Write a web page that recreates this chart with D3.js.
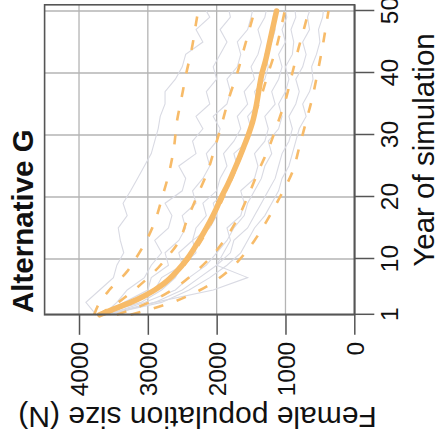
<!DOCTYPE html>
<html><head><meta charset="utf-8">
<script src="https://cdn.jsdelivr.net/npm/d3@7"></script>
<style>html,body{margin:0;padding:0;background:#fff;}svg{display:block;}</style>
</head><body>
<script>
// ---- data ----
const yearTicks = [1, 10, 20, 30, 40, 50];
const popTicks = [0, 1000, 2000, 3000, 4000];
const titleText = "Alternative G";
const xLabel = "Year of simulation";
const yLabel = "Female population size (N)";

// mean trajectory (thick line)
const meanYears = [1,2,3,4,5,6,8,10,12,14,16,18,20,22,25,28,30,32,35,38,40,42,45,48,50];
const meanPop   = [3700,3480,3250,3060,2900,2770,2580,2430,2310,2200,2100,2010,1930,1840,1720,1610,1540,1480,1420,1375,1340,1290,1230,1170,1130];

// dashed quantile-like curves
const dashYears = [1,3,5,8,10,13,16,20,24,28,32,36,40,44,48,50];
const dashA = [3780,3700,3560,3300,3180,3020,2900,2790,2690,2620,2580,2510,2440,2360,2300,2270];
const dashB = [3720,3430,3200,2900,2740,2540,2440,2290,2135,2025,1920,1820,1700,1600,1500,1450];
const dashC = [3650,3220,2880,2550,2400,2220,2070,1900,1740,1600,1490,1360,1250,1135,1050,1010];
const dashD = [3450,2980,2650,2300,2110,1890,1720,1550,1400,1240,1110,990,900,810,710,665];
const dashE = [3250,2650,2240,1840,1660,1450,1280,1080,900,800,705,610,535,465,405,375];

// individual simulation runs (grey)
const simYears = [1,3,5,7,9,11,13,15,17,19,21,23,25,27,29,31,33,35,37,39,41,43,45,47,49,50];
const sim1 = [3750,3900,3700,3500,3450,3350,3400,3430,3300,3360,3250,3150,3050,2950,2900,2850,2820,2750,2750,2600,2500,2450,2200,2300,2100,2150];
const sim2 = [3650,3450,3300,3050,2950,2800,2900,2700,2650,2750,2500,2450,2550,2300,2350,2200,2300,2100,2150,2000,2050,1950,1850,1950,1800,1820];
const sim3 = [3700,3350,3000,2950,2700,2750,2550,2450,2500,2300,2350,2200,2100,2150,2000,1950,2050,1850,1800,1850,1700,1650,1700,1550,1500,1480];
const sim4 = [3600,3200,2900,2800,2500,2550,2350,2300,2150,2200,2000,1950,1850,1900,1750,1650,1700,1550,1600,1450,1500,1400,1350,1400,1300,1280];
const sim5 = [3700,3100,2800,2600,2500,2300,2350,2100,2000,2050,1850,1800,1700,1750,1550,1500,1550,1400,1450,1300,1250,1300,1200,1150,1180,1150];
const sim6 = [3550,2900,2050,1550,2000,1900,1800,1850,1650,1600,1650,1450,1400,1450,1300,1250,1300,1150,1200,1100,1050,1100,1000,1050,980,1000];
const sim7 = [3600,3050,2600,2400,2150,2000,1850,1750,1600,1550,1450,1350,1300,1200,1250,1100,1050,1100,1000,950,1000,900,880,920,850,860];
const sim8 = [3650,2900,2500,2250,2000,1800,1750,1550,1450,1350,1250,1150,1100,1050,950,900,950,850,800,850,750,700,750,650,680,650];
const sim9 = [3600,2800,2400,2100,1850,1650,1550,1450,1300,1200,1100,1050,950,900,850,800,700,750,650,600,620,550,500,520,460,450];

// ---- drawing ----
const W = 440, H = 440;
const svg = d3.select("body").append("svg").attr("width", W).attr("height", H);
// whole chart is drawn in standard orientation and then rotated 90deg counter-clockwise
const g = svg.append("g").attr("transform", `translate(0,${H}) rotate(-90)`);

const x = d3.scaleLinear().domain([1, 51]).range([125.2, 435.2]);
const y = d3.scaleLinear().domain([0, 4500]).range([354.3, 44.6]);
const [x0, x1] = x.range();
const [y0, y1] = y.range();

const orange = "#F7BB69";
const font = "'Liberation Sans', Arial, Helvetica, sans-serif";

// grid
g.append("g").selectAll("line").data(yearTicks.filter(d => d > 1)).join("line")
  .attr("x1", d => x(d)).attr("x2", d => x(d)).attr("y1", y0).attr("y2", y1)
  .attr("stroke", "#b4b4b4").attr("stroke-width", 1.3);
g.append("g").selectAll("line").data(popTicks.filter(d => d > 0)).join("line")
  .attr("y1", d => y(d)).attr("y2", d => y(d)).attr("x1", x0).attr("x2", x1)
  .attr("stroke", "#b4b4b4").attr("stroke-width", 1.3);

const line = (yrs) => d3.line().x((d, i) => x(yrs[i])).y(d => y(d));
const smooth = (yrs) => d3.line().x((d, i) => x(yrs[i])).y(d => y(d)).curve(d3.curveMonotoneX);

// simulations
const sims = [sim1, sim2, sim3, sim4, sim5, sim6, sim7, sim8, sim9];
g.append("g").selectAll("path").data(sims).join("path")
  .attr("d", d => line(simYears)(d))
  .attr("fill", "none").attr("stroke", "#d9dae3").attr("stroke-width", 1.1);

// dashed
const dashes = [dashA, dashB, dashC, dashD, dashE];
g.append("g").selectAll("path").data(dashes).join("path")
  .attr("d", d => smooth(dashYears)(d))
  .attr("fill", "none").attr("stroke", orange).attr("stroke-width", 2.6)
  .attr("stroke-dasharray", "10,14");

// mean
g.append("path").attr("d", smooth(meanYears)(meanPop))
  .attr("fill", "none").attr("stroke", orange).attr("stroke-width", 5.5)
  .attr("stroke-linecap", "round");

// box
g.append("rect").attr("x", x0).attr("y", y1).attr("width", x1 - x0).attr("height", y0 - y1)
  .attr("fill", "none").attr("stroke", "#555").attr("stroke-width", 1.6);

// axes
const xAxis = g.append("g").attr("transform", `translate(0,${y0})`)
  .call(d3.axisBottom(x).tickValues(yearTicks).tickSize(20).tickSizeOuter(0).tickPadding(6).tickFormat(d3.format("d")));
const yAxis = g.append("g").attr("transform", `translate(${x0},0)`)
  .call(d3.axisLeft(y).tickValues(popTicks).tickSize(20).tickSizeOuter(0).tickPadding(7).tickFormat(d3.format("d")));
[xAxis, yAxis].forEach(a => {
  a.select(".domain").attr("stroke", "#555").attr("stroke-width", 1.6);
  a.selectAll(".tick line").attr("stroke", "#555").attr("stroke-width", 1.5);
  a.selectAll(".tick text").attr("font-family", font).attr("font-size", 24.5).attr("fill", "#111");
});
yAxis.selectAll(".tick text").attr("dy", "0.36em");

// titles
g.append("text").attr("x", 127).attr("y", 33).text(titleText)
  .attr("font-family", font).attr("font-weight", "bold").attr("font-size", 29.5).attr("fill", "#111");
g.append("text").attr("x", 290).attr("y", 434).attr("text-anchor", "middle").text(xLabel)
  .attr("font-family", font).attr("font-size", 29.5).attr("fill", "#111");
g.append("text").attr("transform", "translate(33.5,197.5) rotate(-90)").attr("text-anchor", "middle").text(yLabel)
  .attr("font-family", font).attr("font-size", 30).attr("fill", "#111");
</script>
</body></html>
